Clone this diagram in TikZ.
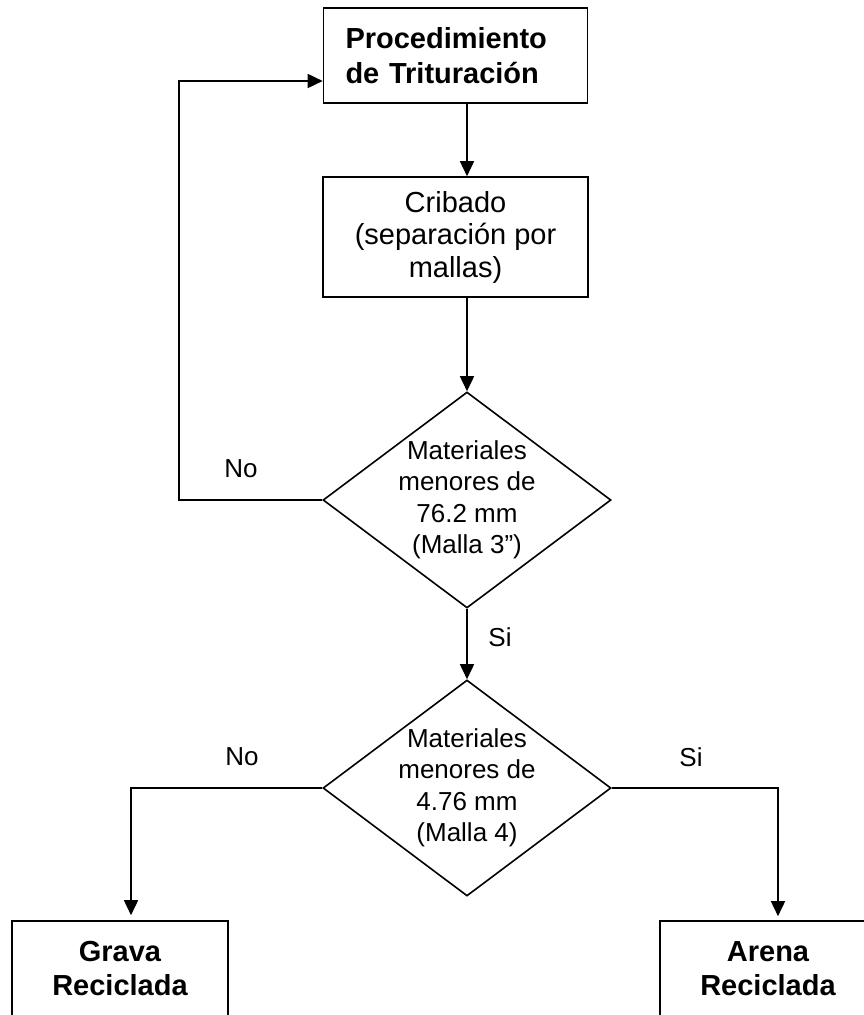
\documentclass[tikz,border=0pt]{standalone}
\usepackage{fontspec}
\setmainfont{Liberation Sans}
\usetikzlibrary{arrows.meta,shapes.geometric}

\begin{document}
\begin{tikzpicture}[x=1pt,y=-1pt,->,>={Triangle[length=15pt,width=14pt]},line width=1.6pt,
                    node distance=180pt,
                    box/.style={rectangle,draw,minimum width=265pt,minimum height=120pt,align=center,
                                font=\fontsize{29}{32.5}\selectfont},
                    bold box/.style={rectangle,draw,minimum width=216pt,minimum height=96pt,align=center,
                                font=\fontsize{29}{34}\selectfont\bfseries},
                    decision/.style={diamond,draw,minimum width=288pt,minimum height=216pt,inner sep=0pt},
                    label text/.style={font=\fontsize{26}{31.5}\selectfont,align=center}]

  \clip (0,0) rectangle (864,1015);

  \node[bold box,text width=220pt,inner xsep=22pt,align=left,minimum height=95pt] (proc) at (455.5,55.5)
       {Procedimiento\\[1pt]de Trituración};
  \node[box] (crib) [below of=proc,node distance=181.5pt] {Cribado\\(separación por\\mallas)};

  \node[decision] (malla3) at (467,500) {};
  \node[label text] (malla3txt) at (malla3) {Materiales\\menores de\\76.2 mm\\(Malla 3”)};
  \node[decision] (malla4) [below of=malla3,node distance=288pt] {};
  \node[label text] (malla4txt) at (malla4) {Materiales\\menores de\\4.76 mm\\(Malla 4)};

  \node[bold box] (grava) at (120,969) {Grava\\Reciclada};
  \node[bold box] (arena) [right of=grava,node distance=648pt] {Arena\\Reciclada};

  \coordinate (retorno) at (179,81);

  \draw (proc.south -| malla3.north) -- (crib.north -| malla3.north);
  \draw (crib.south -| malla3.north) -- (malla3.north);
  \draw (malla3.west) -| (retorno) -- (retorno -| proc.west);
  \draw (malla3.south) -- (malla4.north);
  \draw[shorten >=5pt] (malla4.west) -| ([xshift=11pt]grava.north);
  \draw[shorten >=4pt] (malla4.east) -| ([xshift=10pt]arena.north);

  \node[label text] (no1) at (241,469) {No};
  \node[label text] (si1) at (500,637) {Si};
  \node[label text] (no2) at (242,757) {No};
  \node[label text] (si2) at (691,757) {Si};
\end{tikzpicture}
\end{document}
